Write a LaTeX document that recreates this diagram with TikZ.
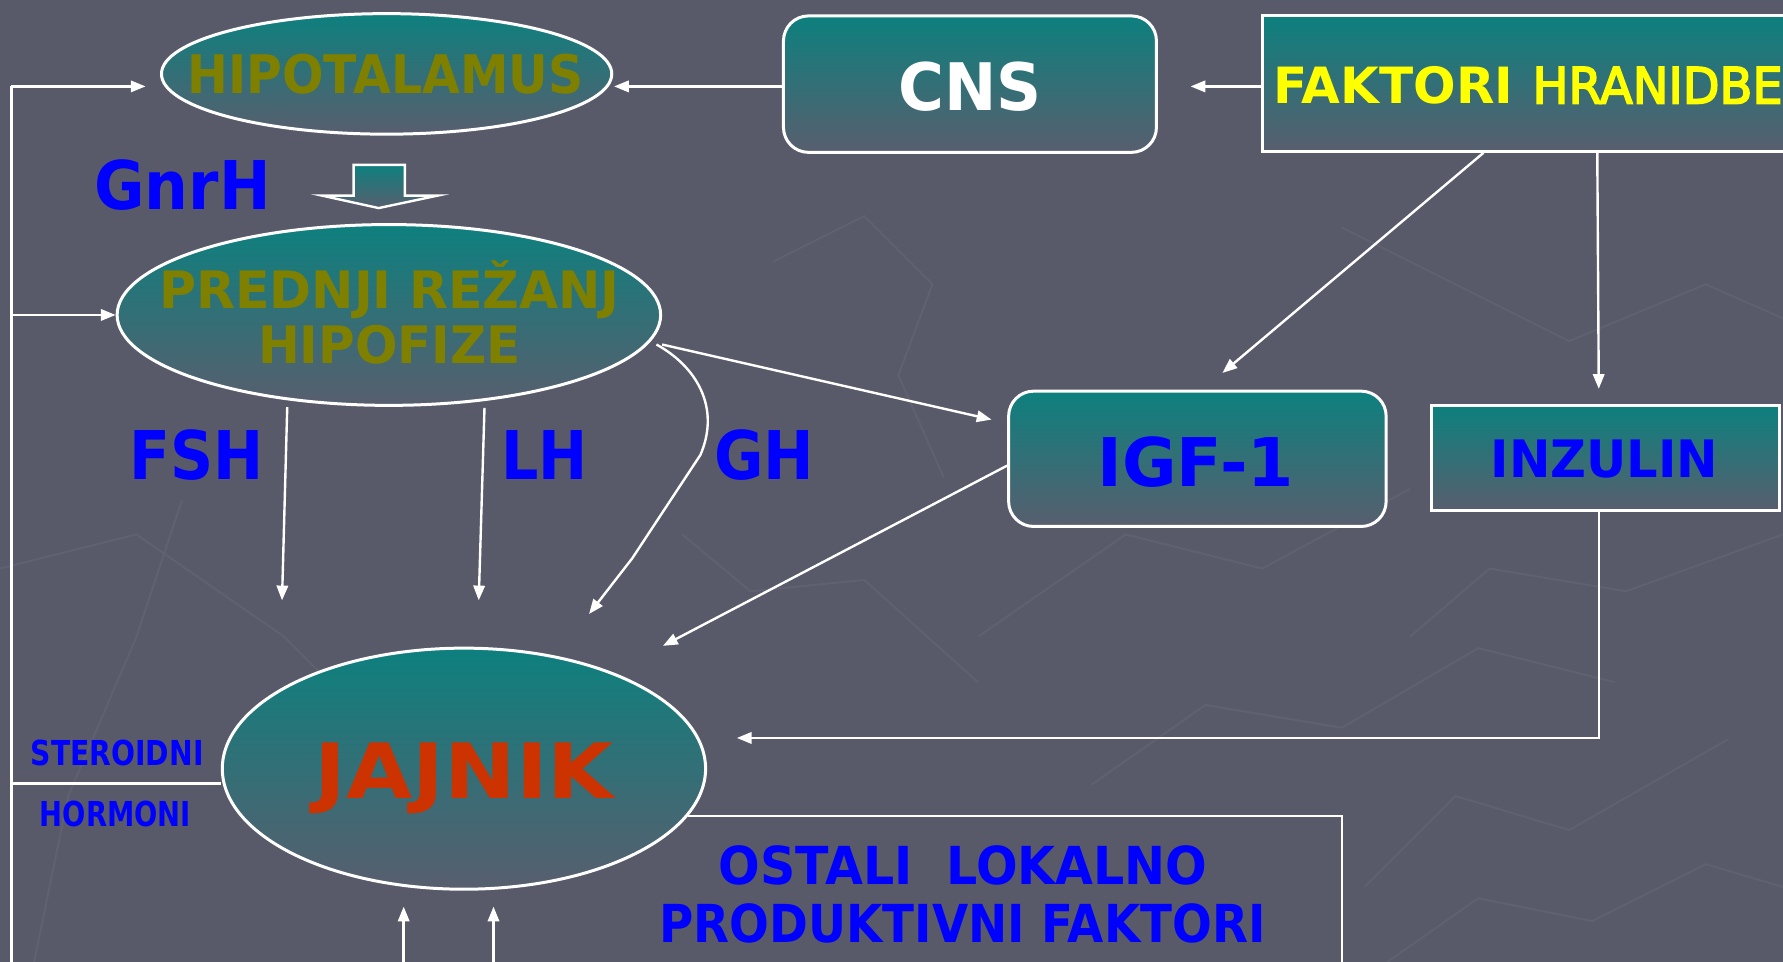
\documentclass[tikz,border=0pt]{standalone}
\usepackage{fontspec}
\setmainfont{DejaVu Sans}
\newfontfamily\hrfont[FakeBold=3.5]{DejaVu Sans}
\usetikzlibrary{shapes.geometric,arrows.meta}
\definecolor{bg}{RGB}{88,90,106}
\definecolor{tealtop}{RGB}{13,128,126}
\definecolor{greybot}{RGB}{88,94,110}
\definecolor{olivet}{RGB}{128,128,0}
\definecolor{bluet}{RGB}{0,0,255}
\definecolor{redt}{RGB}{204,51,0}
\definecolor{yellowt}{RGB}{255,255,0}
\definecolor{texline}{RGB}{95,97,113}
\newcommand\tw[2]{\resizebox{#1}{\height}{#2}}
\newcommand\fs[1]{\fontsize{#1}{#1}\selectfont\bfseries}
\tikzset{
  ell/.style={ellipse, draw=white, line width=0.75pt, top color=tealtop, bottom color=greybot, inner sep=0pt},
  rbox/.style={rectangle, rounded corners=2.2mm, draw=white, line width=0.75pt, top color=tealtop, bottom color=greybot, inner sep=0pt},
  sbox/.style={rectangle, draw=white, line width=0.75pt, top color=tealtop, bottom color=greybot, inner sep=0pt},
  lab/.style={inner sep=0pt, anchor=base},
  ln/.style={draw=white, line width=0.6pt},
  arr/.style={draw=white, line width=0.6pt, -{Triangle[length=1.3mm,width=1.0mm]}},
  tex/.style={draw=texline, line width=0.5pt},
}
\begin{document}
\begin{tikzpicture}[x=0.1mm,y=-0.1mm]
\useasboundingbox (0,0) rectangle (1568,846);
\fill[bg] (0,0) rectangle (1568,846);
\clip (0,0) rectangle (1568,846);
% faint background texture
\draw[tex] (0,500) -- (120,470) -- (250,560) -- (330,640);
\draw[tex] (680,230) -- (760,190) -- (820,250) -- (790,330) -- (830,420);
\draw[tex] (1180,200) -- (1300,260) -- (1380,300) -- (1500,250) -- (1568,280);
\draw[tex] (860,560) -- (990,470) -- (1110,500) -- (1240,430);
\draw[tex] (1240,560) -- (1310,500) -- (1430,520) -- (1568,470);
\draw[tex] (960,690) -- (1060,620) -- (1180,640) -- (1300,570) -- (1420,600);
\draw[tex] (1200,780) -- (1280,700) -- (1380,730) -- (1520,650);
\draw[tex] (1220,846) -- (1300,790) -- (1400,810) -- (1500,760) -- (1568,780);
\draw[tex] (30,846) -- (60,700) -- (120,560) -- (160,440);
\draw[tex] (600,470) -- (660,520) -- (760,510) -- (860,600);
% nodes
\node[ell, minimum width=39.6mm, minimum height=10.6mm] (hip) at (340,65) {};
\node[rbox, minimum width=32.8mm, minimum height=12mm] (cns) at (853,74) {};
\node[sbox, minimum width=48mm, minimum height=11.9mm] (fak) at (1350,73.5) {};
\node[ell, minimum width=47.8mm, minimum height=15.9mm] (pit) at (342,277) {};
\node[rbox, minimum width=33.2mm, minimum height=11.9mm] (igf) at (1053,403.5) {};
\node[sbox, minimum width=30.6mm, minimum height=9.2mm] (inz) at (1412,403) {};
\node[ell, minimum width=42.5mm, minimum height=21.2mm] (jaj) at (408,676) {};
% block arrow (GnrH)
\path[draw=white, line width=0.6pt, top color=tealtop, bottom color=greybot]
  (311,145) -- (356,145) -- (356,172) -- (385,172) -- (333,183) -- (283,172) -- (311,172) -- cycle;
% texts
\node[lab, text=olivet, font=\fs{13.3}] (hiptx) at (339,82) {\tw{34.8mm}{HIPOTALAMUS}};
\node[lab, text=white, font=\fs{16.4}] (cnstx) at (853,97) {\tw{12.6mm}{CNS}};
\node[lab, anchor=base west, text=yellowt, font=\fs{12.5}] (faktx) at (1119,91)
  {\tw{21.1mm}{FAKTORI}\hspace{1.7mm}\tw{22mm}{\hrfont\mdseries HRANIDBE}};
\node[lab, text=bluet, font=\fs{16.8}] (gnrh) at (160.5,184) {\tw{15.5mm}{GnrH}};
\node[lab, text=olivet, font=\fs{12.9}] (pittxa) at (342.5,271) {\tw{40.5mm}{PREDNJI REŽANJ}};
\node[lab, text=olivet, font=\fs{12.9}] (pittxb) at (342.5,320) {\tw{23.1mm}{HIPOFIZE}};
\node[lab, text=bluet, font=\fs{16.8}] (fsh) at (173,422) {\tw{11.8mm}{FSH}};
\node[lab, text=bluet, font=\fs{16.8}] (lh) at (479,422) {\tw{7.6mm}{LH}};
\node[lab, text=bluet, font=\fs{16.8}] (gh) at (672,422) {\tw{8.8mm}{GH}};
\node[lab, text=bluet, font=\fs{16.8}] (igftx) at (1051.5,428) {\tw{17.3mm}{IGF-1}};
\node[lab, text=bluet, font=\fs{12.9}] (inztx) at (1411,420) {\tw{20mm}{INZULIN}};
\node[lab, text=redt, font=\fs{19.1}] (jajtx) at (408.5,702) {\tw{26.3mm}{JAJNIK}};
\node[lab, text=bluet, font=\fs{8.6}] (ster) at (103,673) {\tw{15.2mm}{STEROIDNI}};
\node[lab, text=bluet, font=\fs{8.6}] (horm) at (101.5,727) {\tw{13.3mm}{HORMONI}};
\node[lab, text=bluet, font=\fs{13.1}] (osta) at (847,778) {\tw{43mm}{OSTALI~~LOKALNO}};
\node[lab, text=bluet, font=\fs{13.1}] (ostb) at (846.5,829) {\tw{53.3mm}{PRODUKTIVNI FAKTORI}};
% coordinates
\coordinate (busT) at (10,76);
\coordinate (hipL) at (128,76);
\coordinate (busP) at (10,277);
\coordinate (busJ) at (10,689);
\coordinate (busB) at (10,860);
\coordinate (hipR) at (540,76);
\coordinate (cnsR) at (1047,76);
\coordinate (fshT) at (248,528);
\coordinate (lhT) at (421,528);
\coordinate (ghT) at (518,540);
\coordinate (igfT) at (872,369);
\coordinate (igfA) at (1075,328);
\coordinate (inzT) at (1406,342);
\coordinate (jajI) at (583,568);
\coordinate (jajR) at (648,649);
\coordinate (ostB) at (1180,860);
\coordinate (bA) at (355,860);
\coordinate (bB) at (434,860);
% connectors
\draw[ln] (busB) -- (busT);
\draw[arr] (busT) -- (hipL);
\draw[arr] (busP) -- (pit.west);
\draw[ln] (jaj.west |- busJ) -- (busJ);
\draw[arr] (cns.west |- hipR) -- (hipR);
\draw[arr] (fak.west |- cnsR) -- (cnsR);
\draw[arr] ([yshift=-0.6mm]pit.220) -- (fshT);
\draw[arr] ([yshift=-0.6mm]pit.318) -- (lhT);
\draw[arr] ([xshift=-0.5mm,yshift=-2.6mm]pit.east) .. controls (612,322) and (634,358) .. (616,400) -- (556,491) -- (ghT);
\draw[arr] ([yshift=-2.6mm]pit.east) -- (igfT);
\draw[arr] ([xshift=19.6mm]fak.south west) -- (igfA);
\draw[arr] ([xshift=29.6mm]fak.south west) -- (inzT);
\draw[arr] ([yshift=-0.6mm]igf.west) -- (jajI);
\draw[arr] ([xshift=-0.6mm]inz.south) |- (jajR);
\draw[ln] (jaj.348) -| (ostB);
\draw[arr, shorten >=1.4mm] (bA) -- (bA |- jaj.south);
\draw[arr, shorten >=1.4mm] (bB) -- (bB |- jaj.south);
\end{tikzpicture}
\end{document}
